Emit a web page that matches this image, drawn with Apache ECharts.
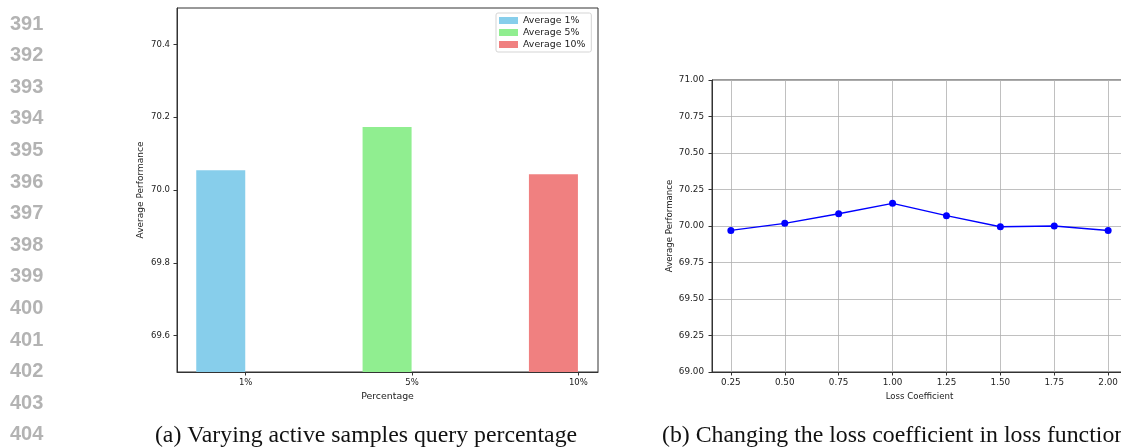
<!DOCTYPE html>
<html>
<head>
<meta charset="utf-8">
<script src="https://cdn.jsdelivr.net/npm/echarts@6/dist/echarts.min.js"></script>
<style>
  html, body { margin: 0; padding: 0; background: #fff; }
  #chart { width: 1121px; height: 447px; }
</style>
</head>
<body>
<div id="chart"></div>
<script>
// (a) query percentage bars
const percentLabels = ['1%', '5%', '10%'];
const percentNames = ['Average 1%', 'Average 5%', 'Average 10%'];
const percentValues = [70.054, 70.173, 70.043];
const percentColors = ['#87CEEB', '#90EE90', '#F08080'];
const leftTicks = [69.6, 69.8, 70.0, 70.2, 70.4];

// (b) loss coefficient line
const lossCoef = [0.25, 0.5, 0.75, 1.0, 1.25, 1.5, 1.75, 2.0];
const lossPerf = [69.970, 70.018, 70.084, 70.155, 70.071, 69.995, 70.000, 69.970];

const lineNumbers = [391, 392, 393, 394, 395, 396, 397, 398, 399, 400, 401, 402, 403, 404];
const captions = ['(a) Varying active samples query percentage', '(b) Changing the loss coefficient in loss function'];

const chart = echarts.init(document.getElementById('chart'), null, {renderer: 'canvas'});

const tickFont = {fontFamily: 'DejaVu Sans', color: '#222'};
const axisLine = {show: true, onZero: false, lineStyle: {color: '#333', width: 1}};
const axisTick = {show: true, length: 3.5, lineStyle: {color: '#333', width: 1}};

const barSeries = percentLabels.map((lab, i) => ({
  type: 'bar',
  name: percentNames[i],
  xAxisIndex: 0,
  yAxisIndex: 0,
  barWidth: 49,
  barGap: '-100%',
  itemStyle: {color: percentColors[i]},
  data: [[i - 0.15, percentValues[i]]]
}));

const graphics = lineNumbers.map((n, i) => ({
  type: 'text',
  left: 10,
  top: 14 + i * 31.6,
  style: {text: String(n), fontFamily: 'Liberation Sans', fontWeight: 'bold', fontSize: 20, fill: '#b3b3b3'}
}));
graphics.push({
  type: 'text', x: 366, y: 436,
  style: {text: captions[0], fontFamily: 'Liberation Serif', fontSize: 23.8, fill: '#111', align: 'center', verticalAlign: 'middle'}
});
graphics.push({
  type: 'text', x: 662, y: 436,
  style: {text: captions[1], fontFamily: 'Liberation Serif', fontSize: 23.8, fill: '#111', align: 'left', verticalAlign: 'middle'}
});

chart.setOption({
  animation: false,
  textStyle: {fontFamily: 'DejaVu Sans'},
  grid: [
    {left: 177, top: 8, width: 421, height: 364, show: true, borderColor: '#333', borderWidth: 1,
      containLabel: false, outerBoundsMode: 'none'},
    {left: 712, top: 80, width: 415, height: 292, show: true, borderColor: '#333', borderWidth: 1,
      containLabel: false, outerBoundsMode: 'none'}
  ],
  legend: {
    data: percentNames,
    orient: 'vertical',
    left: 496,
    top: 13,
    padding: [3, 6, 3, 3],
    itemGap: 3,
    itemWidth: 19,
    itemHeight: 7,
    icon: 'rect',
    borderColor: '#d5d5d5',
    borderWidth: 1,
    borderRadius: 2,
    textStyle: {fontFamily: 'DejaVu Sans', fontSize: 9.4, color: '#222'}
  },
  xAxis: [
    {
      gridIndex: 0,
      type: 'value',
      min: -0.413,
      max: 2.118,
      axisLine: axisLine,
      axisTick: Object.assign({customValues: [0, 1, 2]}, axisTick),
      splitLine: {show: false},
      axisLabel: Object.assign({
        customValues: [0, 1, 2],
        fontSize: 8.5,
        margin: 6,
        formatter: v => percentLabels[Math.round(v)]
      }, tickFont),
      name: 'Percentage',
      nameLocation: 'middle',
      nameGap: 18,
      nameTextStyle: {fontFamily: 'DejaVu Sans', fontSize: 9.4, color: '#222'}
    },
    {
      gridIndex: 1,
      type: 'value',
      min: 0.1625,
      max: 2.0875,
      axisLine: axisLine,
      axisTick: Object.assign({customValues: lossCoef}, axisTick),
      splitLine: {show: true, lineStyle: {color: '#b0b0b0', width: 0.8}},
      axisLabel: Object.assign({
        customValues: lossCoef,
        fontSize: 8.8,
        margin: 6,
        formatter: v => v.toFixed(2)
      }, tickFont),
      name: 'Loss Coefficient',
      nameLocation: 'middle',
      nameGap: 18,
      nameTextStyle: {fontFamily: 'DejaVu Sans', fontSize: 8.6, color: '#222'}
    }
  ],
  yAxis: [
    {
      gridIndex: 0,
      type: 'value',
      min: 69.5,
      max: 70.5,
      axisLine: axisLine,
      axisTick: Object.assign({customValues: leftTicks}, axisTick),
      splitLine: {show: false},
      axisLabel: Object.assign({
        customValues: leftTicks,
        fontSize: 8.5,
        margin: 7,
        formatter: v => v.toFixed(1)
      }, tickFont),
      name: 'Average Performance',
      nameLocation: 'middle',
      nameRotate: 90,
      nameGap: 32,
      nameTextStyle: {fontFamily: 'DejaVu Sans', fontSize: 9, color: '#222'}
    },
    {
      gridIndex: 1,
      type: 'value',
      min: 69,
      max: 71,
      interval: 0.25,
      axisLine: axisLine,
      axisTick: axisTick,
      splitLine: {show: true, lineStyle: {color: '#b0b0b0', width: 0.8}},
      axisLabel: Object.assign({fontSize: 8.8, margin: 8, formatter: v => v.toFixed(2)}, tickFont),
      name: 'Average Performance',
      nameLocation: 'middle',
      nameRotate: 90,
      nameGap: 38,
      nameTextStyle: {fontFamily: 'DejaVu Sans', fontSize: 8.6, color: '#222'}
    }
  ],
  series: barSeries.concat([{
    type: 'line',
    name: 'Loss',
    xAxisIndex: 1,
    yAxisIndex: 1,
    symbol: 'circle',
    symbolSize: 7,
    lineStyle: {color: '#0000ff', width: 1.5},
    itemStyle: {color: '#0000ff'},
    data: lossCoef.map((c, i) => [c, lossPerf[i]])
  }]),
  graphic: graphics
});
</script>
</body>
</html>
